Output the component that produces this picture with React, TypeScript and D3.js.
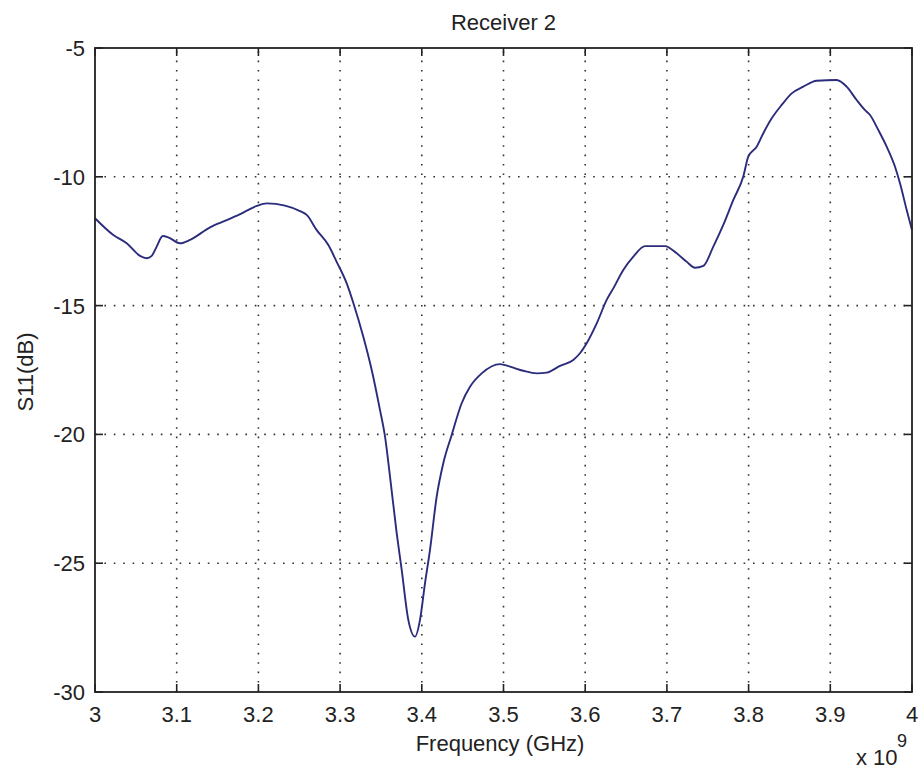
import React from "react";
import * as d3 from "d3";

const freqGHz = [
  3.0, 3.0224, 3.0388, 3.0551, 3.0633, 3.0694, 3.0755, 3.0829, 3.0897, 3.104,
  3.1163, 3.1408, 3.1612, 3.1815, 3.1979, 3.2102, 3.2326, 3.2509, 3.2591, 3.2714,
  3.2856, 3.2958, 3.3081, 3.3162, 3.3284, 3.3387, 3.3488, 3.355, 3.3611, 3.3693,
  3.3754, 3.3835, 3.3917, 3.3978, 3.4039, 3.41, 3.4182, 3.4263, 3.4366, 3.4488,
  3.459, 3.4733, 3.4957, 3.508, 3.5242, 3.5406, 3.5529, 3.5692, 3.5854, 3.5936,
  3.6018, 3.6141, 3.6263, 3.6344, 3.6466, 3.6589, 3.6732, 3.6977, 3.712, 3.7242,
  3.7344, 3.7446, 3.7568, 3.769, 3.7813, 3.7935, 3.7996, 3.8099, 3.818, 3.8283,
  3.8405, 3.8528, 3.867, 3.8833, 3.9078, 3.92, 3.9323, 3.9425, 3.9486, 3.9587,
  3.969, 3.9792, 3.9853, 3.9935, 4.0,
];
const s11dB = [
  -11.61, -12.26, -12.58, -13.07, -13.16, -13.07, -12.71, -12.3, -12.35, -12.58,
  -12.45, -11.96, -11.68, -11.39, -11.13, -11.03, -11.12, -11.33, -11.48, -12.07,
  -12.65, -13.3, -14.14, -14.9, -16.21, -17.5, -19.05, -20.09, -21.64, -23.84,
  -25.26, -27.2, -27.85, -27.2, -25.78, -24.49, -22.42, -21.12, -20.02, -18.79,
  -18.15, -17.63, -17.27, -17.37, -17.53, -17.63, -17.6, -17.34, -17.11, -16.85,
  -16.46, -15.69, -14.78, -14.33, -13.62, -13.1, -12.69, -12.69, -12.97, -13.3,
  -13.53, -13.46, -12.71, -11.87, -10.9, -9.99, -9.22, -8.83, -8.31, -7.73,
  -7.21, -6.76, -6.5, -6.27, -6.24, -6.5, -7.02, -7.41, -7.6, -8.18,
  -8.83, -9.61, -10.25, -11.29, -12.07,
];
const xTicks = [3, 3.1, 3.2, 3.3, 3.4, 3.5, 3.6, 3.7, 3.8, 3.9, 4];
const yTicks = [-30, -25, -20, -15, -10, -5];
const titleText = "Receiver 2";
const xLabel = "Frequency (GHz)";
const yLabel = "S11(dB)";

const W = 924;
const H = 775;
const L = 95, R = 912, T = 48, B = 692;
const FONT = "'Liberation Sans', Arial, Helvetica, sans-serif";
const FS = 22;

export default function App() {
  const x = d3.scaleLinear().domain([3, 4]).range([L, R]);
  const y = d3.scaleLinear().domain([-30, -5]).range([B, T]);
  const pts = freqGHz.map((f, i) => [f, s11dB[i]] as [number, number]);
  const line = d3
    .line<[number, number]>()
    .x((d) => x(d[0]))
    .y((d) => y(d[1]))
    .curve(d3.curveMonotoneX);
  const fmt = (v: number) => String(v);
  const tickLen = 8;
  const axisColor = "#222";

  return (
    <svg
      width={W}
      height={H}
      style={{ position: "absolute", left: 0, top: 0, background: "#fff" }}
    >
      <rect x={0} y={0} width={W} height={H} fill="#fff" />
      <rect x={L} y={T} width={R - L} height={B - T} fill="#fff" />
      {/* grid */}
      <g stroke="#333" strokeWidth={1.6} strokeDasharray="1.6 7.8">
        {xTicks.slice(1, -1).map((t) => (
          <line key={"gx" + t} x1={x(t)} x2={x(t)} y1={B} y2={T} />
        ))}
        {yTicks.slice(1, -1).map((t) => (
          <line key={"gy" + t} x1={L} x2={R} y1={y(t)} y2={y(t)} />
        ))}
      </g>
      {/* data line */}
      <path d={line(pts) || ""} fill="none" stroke="#2c2c7c" strokeWidth={1.9} strokeLinejoin="round" />
      {/* ticks */}
      <g stroke={axisColor} strokeWidth={1.6}>
        {xTicks.map((t) => (
          <g key={"tx" + t}>
            <line x1={x(t)} x2={x(t)} y1={B} y2={B - tickLen} />
            <line x1={x(t)} x2={x(t)} y1={T} y2={T + tickLen} />
          </g>
        ))}
        {yTicks.map((t) => (
          <g key={"ty" + t}>
            <line x1={L} x2={L + tickLen} y1={y(t)} y2={y(t)} />
            <line x1={R} x2={R - tickLen} y1={y(t)} y2={y(t)} />
          </g>
        ))}
      </g>
      {/* box */}
      <rect x={L} y={T} width={R - L} height={B - T} fill="none" stroke={axisColor} strokeWidth={1.8} />
      {/* tick labels */}
      <g fontFamily={FONT} fontSize={FS} fill="#222">
        {xTicks.map((t) => (
          <text key={"lx" + t} x={x(t)} y={722} textAnchor="middle">
            {fmt(t)}
          </text>
        ))}
        {yTicks.map((t) => (
          <text key={"ly" + t} x={85} y={y(t) + 8} textAnchor="end">
            {fmt(t)}
          </text>
        ))}
        <text x={(L + R) / 2} y={30} textAnchor="middle">
          {titleText}
        </text>
        <text x={500} y={751} textAnchor="middle">
          {xLabel}
        </text>
        <text transform={`translate(33,${(T + B) / 2 + 2}) rotate(-90)`} textAnchor="middle">
          {yLabel}
        </text>
        <text x={856} y={765}>x 10</text>
        <text x={897} y={747} fontSize={FS - 4}>9</text>
      </g>
    </svg>
  );
}
